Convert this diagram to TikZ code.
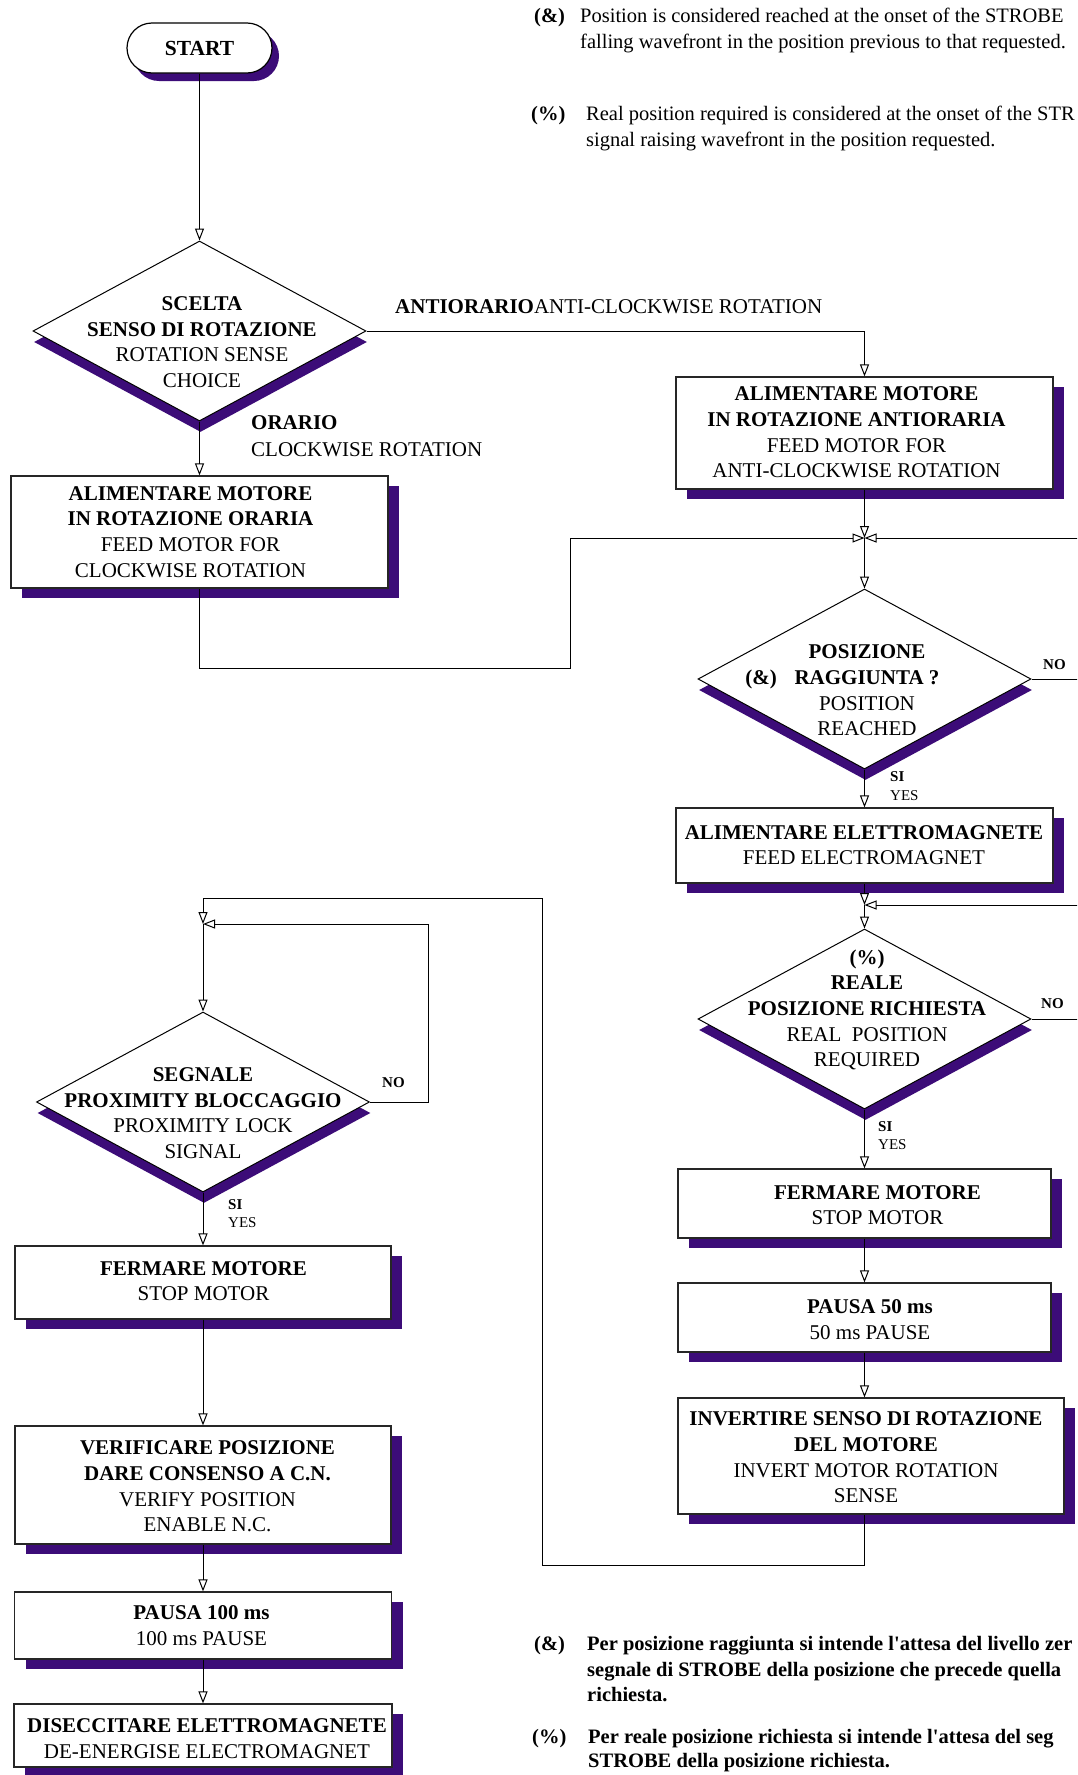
\documentclass[tikz,border=0pt]{standalone}
\usepackage{fontspec}
\setmainfont{Liberation Serif}
\usetikzlibrary{arrows.meta,shapes.geometric,shadows}
\definecolor{purp}{RGB}{60,12,120}
\begin{document}
\begin{tikzpicture}[x=1pt,y=-1pt,
  arr/.style={line width=1pt,-{Triangle[open,length=12pt,width=9pt]}},
  box/.style={rectangle,draw=black!85,line width=1.2pt,fill=white,inner sep=0pt,
    drop shadow={shadow xshift=11pt,shadow yshift=-10pt,fill=purp,opacity=1}},
  dia/.style={diamond,draw=black,line width=1pt,fill=white,inner sep=0pt,
    minimum width=333pt,minimum height=180pt,
    drop shadow={shadow xshift=1pt,shadow yshift=-11pt,fill=purp,opacity=1}},
  startn/.style={rectangle,rounded corners=25pt,draw=black,line width=1.2pt,fill=white,
    minimum width=145pt,minimum height=50pt,inner sep=0pt,font=\fontsize{21.5}{25}\selectfont,
    drop shadow={shadow xshift=7pt,shadow yshift=-8pt,fill=purp,opacity=1}},
  txt/.style={inner sep=0pt,align=center,font=\fontsize{21}{25.7}\selectfont},
  lab/.style={inner sep=0pt,anchor=west,font=\fontsize{21}{25}\selectfont},
  slab/.style={inner sep=0pt,anchor=west,font=\fontsize{15}{18}\selectfont},
  note/.style={inner sep=0pt,anchor=base west,font=\fontsize{20.5}{24}\selectfont},
  bnote/.style={inner sep=0pt,anchor=base west,font=\fontsize{20.5}{25}\selectfont\bfseries}
]
\useasboundingbox (0,0) rectangle (1077,1775);
\fill[white] (0,0) rectangle (1077,1775);
\clip (0,0) rectangle (1077,1775);

% ---- notes top
\node[note,font=\fontsize{20.5}{24}\selectfont\bfseries] (n1a) at (534,22) {(\&)};
\node[note] (n1b) at (580,22) {Position is considered reached at the onset of the STROBE};
\node[note] (n1c) at (580,48) {falling wavefront in the position previous to that requested.};
\node[note,font=\fontsize{20.5}{24}\selectfont\bfseries] (n2a) at (531,120) {(\%)};
\node[note] (n2b) at (586,120) {Real position required is considered at the onset of the STR};
\node[note] (n2c) at (586,146) {signal raising wavefront in the position requested.};

% ---- left top column
\node[startn] (start) at (199.5,48) {\textbf{START}};
\node[dia] (d1) at (199.5,331) {};
\node[txt] (d1t) at (202,342) {\textbf{SCELTA}\\\textbf{SENSO DI ROTAZIONE}\\ROTATION SENSE\\CHOICE};
\node[box,minimum width=377pt,minimum height=112pt] (b1) at (199.5,532) {};
\node[txt] (b1t) at (190.5,532) {\textbf{ALIMENTARE MOTORE}\\\textbf{IN ROTAZIONE ORARIA}\\FEED MOTOR FOR\\CLOCKWISE ROTATION};
\node[lab] (lor) at (251,423) {\textbf{ORARIO}};
\node[lab] (lcw) at (251,450) {CLOCKWISE ROTATION};
\node[lab] (lacw) at (395,307) {\textbf{ANTIORARIO}ANTI-CLOCKWISE ROTATION};

% ---- right column
\node[box,minimum width=377pt,minimum height=112pt] (b2) at (864.5,433) {};
\node[txt] (b2t) at (856.5,432.5) {\textbf{ALIMENTARE MOTORE}\\\textbf{IN ROTAZIONE ANTIORARIA}\\FEED MOTOR FOR\\ANTI-CLOCKWISE ROTATION};
\coordinate (j1) at (864.5,538);
\node[dia] (d2) at (864.5,679) {};
\node[txt] (d2t) at (867,690.5) {\textbf{POSIZIONE}\\\textbf{RAGGIUNTA ?}\\POSITION\\REACHED};
\node[txt] (d2a) at (761,679) {\textbf{(\&)}};
\node[slab] (d2no) at (1043,665) {\textbf{NO}};
\node[slab] (d2si) at (890,777) {\textbf{SI}};
\node[slab] (d2yes) at (890,796) {YES};
\node[box,minimum width=377pt,minimum height=75pt] (b3) at (864.5,845.5) {};
\node[txt] (b3t) at (864,845) {\textbf{ALIMENTARE ELETTROMAGNETE}\\FEED ELECTROMAGNET};
\coordinate (j2) at (864.5,905);
\node[dia] (d3) at (864.5,1019) {};
\node[txt] (d3t) at (867,1010) {\textbf{(\%)}\\\textbf{REALE}\\\textbf{POSIZIONE RICHIESTA}\\REAL~~POSITION\\REQUIRED};
\node[slab] (d3no) at (1041,1004) {\textbf{NO}};
\node[slab] (d3si) at (878,1127) {\textbf{SI}};
\node[slab] (d3yes) at (878,1145) {YES};
\node[box,minimum width=373pt,minimum height=69pt] (b4) at (864.5,1203.5) {};
\node[txt] (b4t) at (877.5,1205) {\textbf{FERMARE MOTORE}\\STOP MOTOR};
\node[box,minimum width=373pt,minimum height=69pt] (b5) at (864.5,1317.5) {};
\node[txt] (b5t) at (870,1319.5) {\textbf{PAUSA 50 ms}\\50 ms PAUSE};
\node[box,minimum width=386pt,minimum height=116pt] (b6) at (871,1456) {};
\node[txt] (b6t) at (866,1457.5) {\textbf{INVERTIRE SENSO DI ROTAZIONE}\\\textbf{DEL MOTORE}\\INVERT MOTOR ROTATION\\SENSE};

% ---- left bottom column
\coordinate (j3) at (203,924);
\node[dia] (d4) at (203,1102) {};
\node[txt] (d4t) at (203,1113) {\textbf{SEGNALE}\\\textbf{PROXIMITY BLOCCAGGIO}\\PROXIMITY LOCK\\SIGNAL};
\node[slab] (d4no) at (382,1083) {\textbf{NO}};
\node[slab] (d4si) at (228,1205) {\textbf{SI}};
\node[slab] (d4yes) at (228,1223) {YES};
\node[box,minimum width=376pt,minimum height=73pt] (b7) at (203,1282.5) {};
\node[txt] (b7t) at (203.5,1281) {\textbf{FERMARE MOTORE}\\STOP MOTOR};
\node[box,minimum width=376pt,minimum height=118pt] (b8) at (203,1485) {};
\node[txt] (b8t) at (207.5,1486.5) {\textbf{VERIFICARE POSIZIONE}\\\textbf{DARE CONSENSO A C.N.}\\VERIFY POSITION\\ENABLE N.C.};
\node[box,minimum width=377pt,minimum height=67pt] (b9) at (203,1625.5) {};
\node[txt] (b9t) at (201.5,1625.5) {\textbf{PAUSA 100 ms}\\100 ms PAUSE};
\node[box,minimum width=378pt,minimum height=63pt] (b10) at (203,1735.5) {};
\node[txt] (b10t) at (207,1738.5) {\textbf{DISECCITARE ELETTROMAGNETE}\\DE-ENERGISE ELECTROMAGNET};

% ---- notes bottom
\node[bnote] (m1a) at (534,1650) {(\&)};
\node[bnote] (m1b) at (587,1650) {Per posizione raggiunta si intende l\textquotesingle attesa del livello zer};
\node[bnote] (m1c) at (587,1676) {segnale di STROBE della posizione che precede quella};
\node[bnote] (m1d) at (587,1701) {richiesta.};
\node[bnote] (m2a) at (532,1743) {(\%)};
\node[bnote] (m2b) at (588,1743) {Per reale posizione richiesta si intende l\textquotesingle attesa del seg};
\node[bnote] (m2c) at (588,1767) {STROBE della posizione richiesta.};

% ---- connectors
\coordinate (l1) at (570,668);
\coordinate (r1) at (1100,679);
\coordinate (r2) at (1100,1019);
\coordinate (l2) at (542,1565);
\coordinate (l3) at (542,898);
\coordinate (r3) at (428,1102);
\draw[arr] (start.south) -- (d1.north);
\draw[arr] (d1.south) -- (b1.north);
\draw[arr] (d1.east) -| (b2.north);
\draw[arr] (b2.south) -- (j1);
\draw[arr] (b1.south) |- (l1) |- (j1);
\draw[arr] (d2.east) -- (r1) |- (j1);
\draw[arr] (j1) -- (d2.north);
\draw[arr] (d2.south) -- (b3.north);
\draw[arr] (b3.south) -- (j2);
\draw[arr] (d3.east) -- (r2) |- (j2);
\draw[arr] (j2) -- (d3.north);
\draw[arr] (d3.south) -- (b4.north);
\draw[arr] (b4.south) -- (b5.north);
\draw[arr] (b5.south) -- (b5.south |- b6.north);
\draw[arr] (b5.south |- b6.south) |- (l2) -- (l3) -| (j3);
\draw[arr] (d4.east) -- (r3) |- (j3);
\draw[arr] (j3) -- (d4.north);
\draw[arr] (d4.south) -- (b7.north);
\draw[arr] (b7.south) -- (b8.north);
\draw[arr] (b8.south) -- (b9.north);
\draw[arr] (b9.south) -- (b10.north);
\end{tikzpicture}
\end{document}
